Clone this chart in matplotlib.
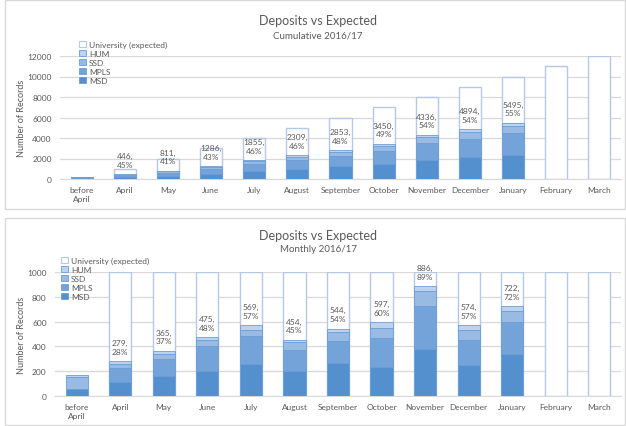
import numpy as np
import matplotlib
matplotlib.use("Agg")
import matplotlib.pyplot as plt
from matplotlib.patches import Rectangle, Patch

plt.rcParams['font.family'] = ['Lato', 'DejaVu Sans']

categories = ["before\nApril", "April", "May", "June", "July", "August", "September",
              "October", "November", "December", "January", "February", "March"]
series_names = ["MSD", "MPLS", "SSD", "HUM"]

# Cumulative 2016/17
cum_msd  = [57, 170, 332, 534, 791, 989, 1254, 1489, 1867, 2110, 2390, 0, 0]
cum_mpls = [0, 111, 249, 449, 673, 848, 1026, 1259, 1605, 1800, 2060, 0, 0]
cum_ssd  = [95, 133, 171, 218, 267, 329, 400, 478, 600, 680, 690, 0, 0]
cum_hum  = [15, 32, 59, 85, 124, 143, 173, 224, 264, 304, 355, 0, 0]
cum_expected = [0, 1000, 2000, 3000, 4000, 5000, 6000, 7000, 8000, 9000, 10000, 11000, 12000]
cum_totals = [None, 446, 811, 1286, 1855, 2309, 2853, 3450, 4336, 4894, 5495, None, None]
cum_pcts   = [None, 45, 41, 43, 46, 46, 48, 49, 54, 54, 55, None, None]

# Monthly 2016/17
mon_msd  = [57, 113, 162, 202, 257, 198, 265, 235, 378, 251, 338, 0, 0]
mon_mpls = [0, 111, 138, 200, 224, 175, 178, 233, 346, 200, 257, 0, 0]
mon_ssd  = [95, 38, 38, 47, 49, 62, 71, 78, 122, 84, 89, 0, 0]
mon_hum  = [15, 17, 27, 26, 39, 19, 30, 51, 40, 39, 38, 0, 0]
mon_expected = [0, 1000, 1000, 1000, 1000, 1000, 1000, 1000, 1000, 1000, 1000, 1000, 1000]
mon_totals = [None, 279, 365, 475, 569, 454, 544, 597, 886, 574, 722, None, None]
mon_pcts   = [None, 28, 37, 48, 57, 45, 54, 60, 89, 57, 72, None, None]

colors = ["#5590CE", "#74A3D9", "#99BBE3", "#BCD2EE"]
edge_col = "#6A9DD6"
exp_edge = "#B4C8E8"
grid_col = "#D9D9D9"
text_col = "#595959"

W, H = 626, 427
fig = plt.figure(figsize=(W / 100, H / 100), dpi=100)

# panel borders
for (x0, y0, x1, y1) in [(5, 1, 625, 210), (5, 219, 625, 426)]:
    fig.patches.append(Rectangle((x0 / W, 1 - y1 / H), (x1 - x0) / W, (y1 - y0) / H,
                                 transform=fig.transFigure, fill=False,
                                 edgecolor="#D9D9D9", linewidth=1.0))


def panel(rect, series, expected, totals, pcts, ymax, ystep, title, subtitle,
          title_y, sub_y, leg_xy, ylab_x):
    ax = fig.add_axes(rect)
    x = np.arange(len(categories))
    width = 0.51
    exp = np.array(expected, dtype=float)
    mask = exp > 0
    ax.bar(x[mask], exp[mask], width=width, color="white", edgecolor=exp_edge,
           linewidth=1.0, zorder=2)
    bottom = np.zeros(len(categories))
    handles = []
    for name, vals, c in zip(series_names, series, colors):
        v = np.array(vals, dtype=float)
        ax.bar(x, v, width=width, bottom=bottom, color=c, edgecolor=edge_col,
               linewidth=0.6, zorder=3)
        bottom = bottom + v
        handles.append(Patch(facecolor=c, edgecolor=edge_col, linewidth=0.6, label=name))
    for i, (t, p) in enumerate(zip(totals, pcts)):
        if t is None:
            continue
        ax.annotate(f"{t},\n{p}%", (x[i], t), xytext=(0, 4.5), textcoords="offset points",
                    ha="center", va="bottom", fontsize=6, color=text_col,
                    linespacing=1.3, zorder=5)
    ax.set_xlim(-0.5, len(categories) - 0.5)
    ax.set_ylim(0, ymax)
    ax.set_yticks(np.arange(0, ymax + 1, ystep))
    ax.set_xticks(x)
    ax.set_xticklabels(categories, fontsize=6, color=text_col, linespacing=1.3)
    ax.tick_params(axis="y", labelsize=6, labelcolor=text_col, length=0, pad=6)
    ax.tick_params(axis="x", length=0, pad=5)
    ax.grid(axis="y", color=grid_col, linewidth=0.9, zorder=0)
    ax.set_axisbelow(True)
    for s in ["top", "right", "left"]:
        ax.spines[s].set_visible(False)
    ax.spines["bottom"].set_color(grid_col)
    ax.set_ylabel("Number of Records", fontsize=6.5, color=text_col)
    ax.yaxis.set_label_coords(ylab_x, 0.5)
    fig.text(318 / W, 1 - title_y / H, title, ha="center", va="center",
             fontsize=9, color=text_col)
    fig.text(318 / W, 1 - sub_y / H, subtitle, ha="center", va="center",
             fontsize=7, color=text_col)
    handles = handles[::-1]
    handles.insert(0, Patch(facecolor="white", edgecolor=exp_edge, linewidth=0.8,
                            label="University (expected)"))
    leg = ax.legend(handles=handles, loc="upper left",
                    bbox_to_anchor=(leg_xy[0] / W, 1 - leg_xy[1] / H),
                    bbox_transform=fig.transFigure, frameon=False, fontsize=6,
                    handlelength=0.8, handleheight=0.8, handletextpad=0.4,
                    labelspacing=0.22, borderaxespad=0, borderpad=0)
    for t in leg.get_texts():
        t.set_color(text_col)
    return ax


ax1 = panel([60 / W, 1 - 180 / H, 561 / W, 123 / H],
            [cum_msd, cum_mpls, cum_ssd, cum_hum], cum_expected, cum_totals, cum_pcts,
            12000, 2000, "Deposits vs Expected", "Cumulative 2016/17",
            21, 36, (79, 42), -0.061)

ax2 = panel([55 / W, 1 - 397 / H, 566 / W, 124 / H],
            [mon_msd, mon_mpls, mon_ssd, mon_hum], mon_expected, mon_totals, mon_pcts,
            1000, 200, "Deposits vs Expected", "Monthly 2016/17",
            236, 250, (61, 258), -0.051)

fig.savefig("out.png", dpi=100)
